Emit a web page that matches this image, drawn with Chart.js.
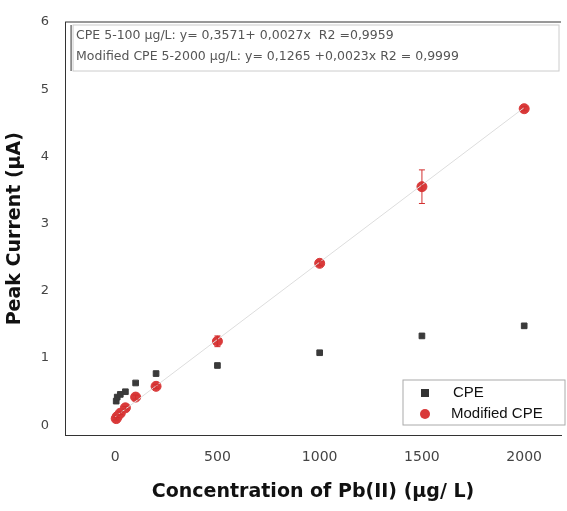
<!DOCTYPE html><html><head><script src="https://cdn.jsdelivr.net/npm/chart.js@4"></script>
<style>body{margin:0;background:#fff}#w{width:567px;height:511px}</style></head><body><div id="w"><canvas id="c"></canvas></div>
<script>
const concX=[5,10,25,50,100,200,500,1000,1500,2000];
const cpeY=[0.36,0.42,0.46,0.50,0.63,0.77,0.89,1.08,1.33,1.48];
const modY=[0.10,0.13,0.18,0.26,0.42,0.58,1.25,2.41,3.55,4.71];
const modErr=[0.02,0.02,0.02,0.02,0.03,0.03,0.08,0.03,0.25,0.03];
const fitX=[0,2000];
const fitY=fitX.map(x=>0.1265+0.0023*x);
const xTicks=[0,500,1000,1500,2000];
const yTicks=[0,1,2,3,4,5,6];
const errPlugin={id:'err',afterDatasetsDraw(ch){const c=ch.ctx,xs=ch.scales.x,ys=ch.scales.y;c.save();c.strokeStyle='#d32f2f';c.lineWidth=1;
modY.forEach((v,i)=>{const x=xs.getPixelForValue(concX[i]),y1=ys.getPixelForValue(v-modErr[i]),y2=ys.getPixelForValue(v+modErr[i]);c.beginPath();c.moveTo(x,y1);c.lineTo(x,y2);c.moveTo(x-3,y1);c.lineTo(x+3,y1);c.moveTo(x-3,y2);c.lineTo(x+3,y2);c.stroke();});
const a=ch.chartArea;c.strokeStyle='#333';c.beginPath();c.moveTo(a.left,a.top);c.lineTo(a.right,a.top);c.stroke();
c.fillStyle='#fff';c.strokeStyle='#ccc';c.fillRect(a.left+8,a.top+3,a.right-a.left-10,46);c.strokeRect(a.left+8,a.top+3,a.right-a.left-10,46);
c.strokeStyle='#333';c.beginPath();c.moveTo(a.left+6,a.top+3);c.lineTo(a.left+6,a.top+49);c.stroke();
c.fillStyle='#555';c.font='12.5px "DejaVu Sans"';c.textBaseline='middle';c.fillText('CPE 5-100 µg/L: y= 0,3571+ 0,0027x  R2 =0,9959',a.left+11,a.top+14);c.fillText('Modified CPE 5-2000 µg/L: y= 0,1265 +0,0023x R2 = 0,9999',a.left+11,a.top+35);
const lx=403,ly=380;c.strokeStyle='#aaa';c.strokeRect(lx,ly,162,45);c.fillStyle='#333';c.fillRect(lx+18,ly+9,8,8);c.fillStyle='#d93a3a';c.beginPath();c.arc(lx+22,ly+34,5,0,7);c.fill();
c.fillStyle='#111';c.font='15px "Liberation Sans"';c.fillText('CPE',lx+50,ly+13);c.fillText('Modified CPE',lx+48,ly+34);c.restore();}};
new Chart(document.getElementById('c'),{type:'scatter',data:{datasets:[
{data:fitX.map((x,i)=>({x,y:fitY[i]})),showLine:true,borderColor:'#ddd',borderWidth:1,pointRadius:0},
{data:concX.map((x,i)=>({x,y:cpeY[i]})),pointStyle:'rect',pointRadius:4,backgroundColor:'#3a3a3a',borderColor:'#3a3a3a'},
{data:concX.map((x,i)=>({x,y:modY[i]})),pointStyle:'circle',pointRadius:5,backgroundColor:'#d93a3a',borderColor:'#d93a3a'}]},
plugins:[errPlugin],
options:{animation:false,maintainAspectRatio:false,layout:{padding:{top:22,right:4,left:0,bottom:4}},plugins:{legend:{display:false},tooltip:{enabled:false}},
scales:{x:{min:-245,max:2180,afterBuildTicks:s=>{s.ticks=xTicks.map(v=>({value:v}))},grid:{display:false},border:{color:'#333'},ticks:{color:'#444',padding:6,callback:v=>String(v),font:{size:14,family:'DejaVu Sans'}},
title:{display:true,text:'Concentration of Pb(II) (µg/ L)',padding:{top:8},font:{size:19,weight:'bold',family:'DejaVu Sans'},color:'#111'}},
y:{min:-0.15,max:6,afterBuildTicks:s=>{s.ticks=yTicks.map(v=>({value:v}))},grid:{display:false},border:{color:'#333'},ticks:{color:'#444',padding:8,font:{size:13,family:'DejaVu Sans'}},
title:{display:true,text:'Peak Current (µA)',padding:{bottom:6},font:{size:19,weight:'bold',family:'DejaVu Sans'},color:'#111'}}}}});
</script></body></html>
